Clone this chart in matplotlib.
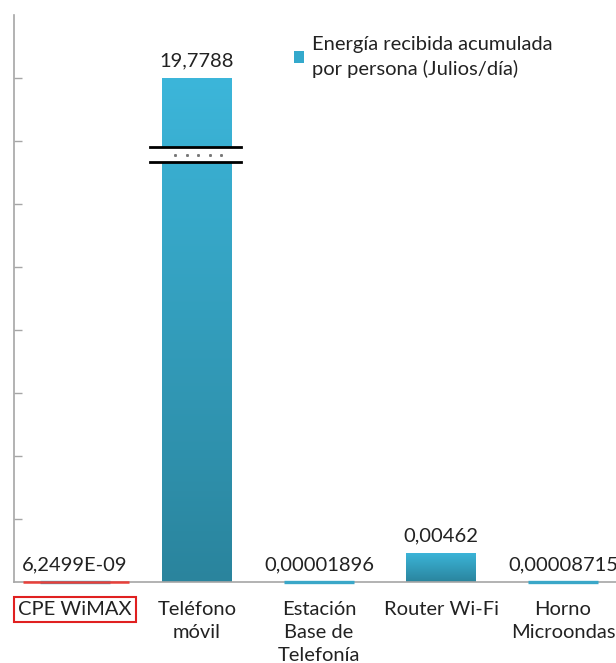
import matplotlib
matplotlib.use("Agg")
import matplotlib.pyplot as plt
import numpy as np
from matplotlib.patches import Rectangle
from matplotlib.colors import LinearSegmentedColormap

plt.rcParams['font.family'] = ['Lato', 'DejaVu Sans']

# data
categories = ['CPE WiMAX', 'Teléfono\nmóvil', 'Estación\nBase de\nTelefonía', 'Router Wi-Fi', 'Horno\nMicroondas']
values = [6.2499e-09, 19.7788, 0.00001896, 0.00462, 0.00008715]
value_labels = ['6,2499E-09', '19,7788', '0,00001896', '0,00462', '0,00008715']
series_name = 'Energía recibida acumulada\npor persona (Julios/día)'

# axis is broken: anything above the cap is drawn up to the cap
break_cap = 0.08
break_band = (0.0667, 0.0690)
y_max = 0.09

light = '#3cb6da'
dark = '#2a849d'
grad = LinearSegmentedColormap.from_list('bar', [dark, light])
fs = 14.5

fig = plt.figure(figsize=(6.16, 6.63), dpi=100)
ax = fig.add_axes([14 / 616, 1 - 582 / 663, 610 / 616, (582 - 15) / 663])

x = np.arange(len(categories))
shown = [min(v, break_cap) for v in values]
bars = ax.bar(x, shown, width=0.57, color='none', edgecolor='none', zorder=2)

# gradient fill per bar, thin line for the tiny ones
for i, b in enumerate(bars):
    h = b.get_height()
    x0 = b.get_x()
    w = b.get_width()
    if h > 0.0005:
        g = np.linspace(0, 1, 256).reshape(-1, 1)
        im = ax.imshow(g, cmap=grad, aspect='auto', origin='lower',
                       extent=[x0, x0 + w, 0, h], zorder=2)
        im.set_clip_path(b)
    else:
        ax.plot([x0, x0 + w], [0, 0], color='#3aa7c8', lw=2.4, zorder=4,
                solid_capstyle='butt', clip_on=False)

# red highlight under the CPE WiMAX value
ax.plot([-0.43, 0.44], [0, 0], color='#e8403a', lw=1.8, zorder=5,
        solid_capstyle='butt', clip_on=False)

# value labels
for i, b in enumerate(bars):
    ax.annotate(value_labels[i], (b.get_x() + b.get_width() / 2, b.get_height()),
                xytext=(0, 6), textcoords='offset points', ha='center', va='bottom',
                fontsize=fs, color='#222222', zorder=5)

# break marks on the móvil bar
bx0, bx1 = 1 - 0.385, 1 + 0.36
ax.add_patch(Rectangle((bx0, break_band[0]), bx1 - bx0, break_band[1] - break_band[0],
                       facecolor='white', edgecolor='none', zorder=4))
ax.plot([bx0, bx1], [break_band[1], break_band[1]], color='black', lw=2, zorder=5)
ax.plot([bx0, bx1], [break_band[0], break_band[0]], color='black', lw=2, zorder=5)
ax.plot(np.linspace(0.82, 1.2, 5), [0.06785] * 5, ls='none', marker='s', ms=1.1,
        color='#777777', zorder=5)

ax.set_xlim(-0.5, 4.5)
ax.set_ylim(0, y_max)
ax.set_yticks(np.arange(1, 9) * 0.01)
ax.set_yticklabels([])
ax.tick_params(axis='y', direction='in', length=6, width=1, color='#a6a6a6')
ax.set_xticks(x)
ax.set_xticklabels(categories, fontsize=fs, color='#222222', linespacing=1.42)
ax.tick_params(axis='x', length=0, pad=14)
for s in ['top', 'right']:
    ax.spines[s].set_visible(False)
for s in ['left', 'bottom']:
    ax.spines[s].set_color('#a6a6a6')
    ax.spines[s].set_linewidth(1.2)

lbl = ax.get_xticklabels()[0]
lbl.set_bbox(dict(facecolor='none', edgecolor='#e02020', linewidth=1.5,
                  boxstyle='square,pad=0.2'))

handle = Rectangle((0, 0), 1, 1, facecolor='#34a9cc', edgecolor='none')
leg = ax.legend([handle], [series_name], loc='upper left',
                bbox_to_anchor=(294 / 616, 1 - 36 / 663), bbox_transform=fig.transFigure,
                frameon=False, fontsize=fs, handlelength=0.5, handleheight=0.5,
                handletextpad=0.4, borderpad=0, borderaxespad=0)
for t in leg.get_texts():
    t.set_color('#222222')
    t.set_linespacing(1.45)

fig.savefig('out.png', dpi=100)
